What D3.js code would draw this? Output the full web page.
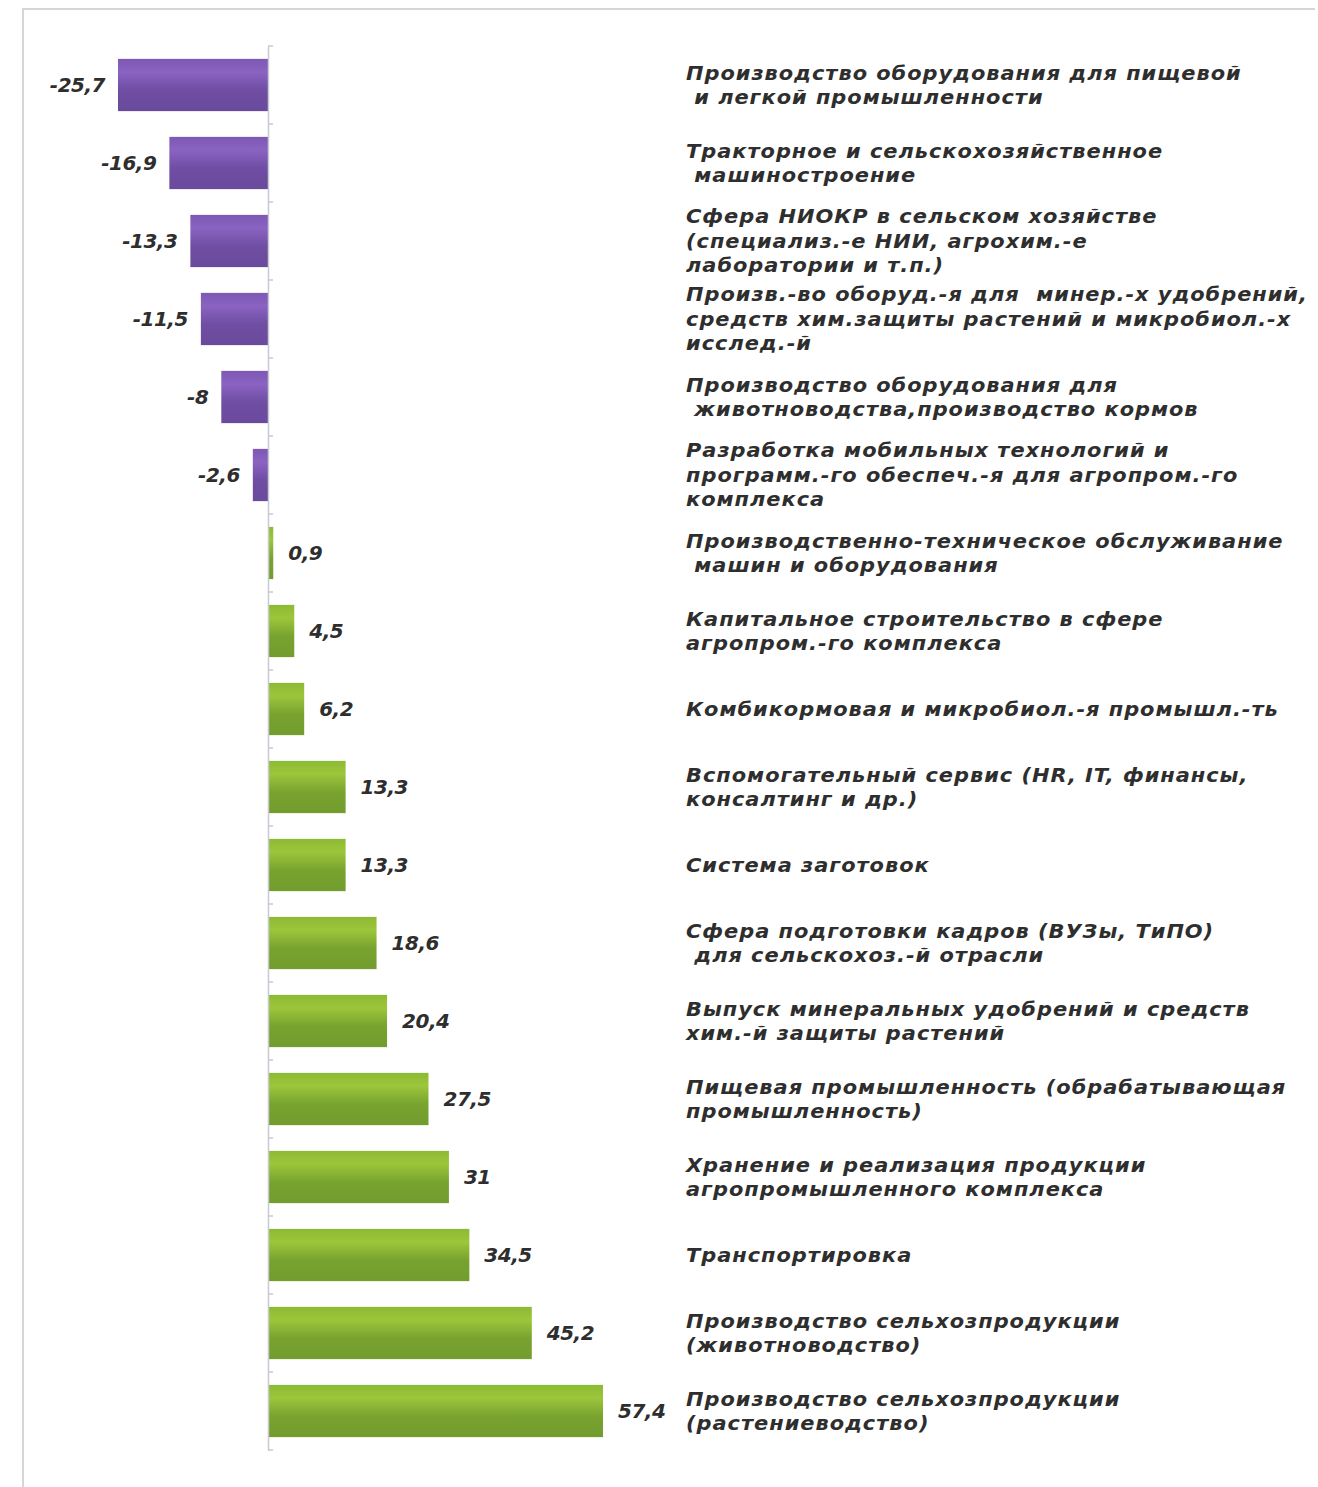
<!DOCTYPE html>
<html>
<head>
<meta charset="utf-8">
<script src="https://cdn.jsdelivr.net/npm/d3@7"></script>
<style>
    body { margin: 0; background: #fff; }
    svg text { font-family: "DejaVu Sans", sans-serif; font-style: italic; fill: #2e2e2e; white-space: pre; }
</style>
</head>
<body>
<div id="chart"></div>
<script>
const categories = [
    ["Производство оборудования для пищевой", " и легкой промышленности"],
    ["Тракторное и сельскохозяйственное", " машиностроение"],
    ["Сфера НИОКР в сельском хозяйстве", "(специализ.-е НИИ, агрохим.-е", "лаборатории и т.п.)"],
    ["Произв.-во оборуд.-я для  минер.-х удобрений,", "средств хим.защиты растений и микробиол.-х", "исслед.-й"],
    ["Производство оборудования для", " животноводства,производство кормов"],
    ["Разработка мобильных технологий и", "программ.-го обеспеч.-я для агропром.-го", "комплекса"],
    ["Производственно-техническое обслуживание", " машин и оборудования"],
    ["Капитальное строительство в сфере", "агропром.-го комплекса"],
    ["Комбикормовая и микробиол.-я промышл.-ть"],
    ["Вспомогательный сервис (HR, IT, финансы,", "консалтинг и др.)"],
    ["Система заготовок"],
    ["Сфера подготовки кадров (ВУЗы, ТиПО)", " для сельскохоз.-й отрасли"],
    ["Выпуск минеральных удобрений и средств", "хим.-й защиты растений"],
    ["Пищевая промышленность (обрабатывающая", "промышленность)"],
    ["Хранение и реализация продукции", "агропромышленного комплекса"],
    ["Транспортировка"],
    ["Производство сельхозпродукции", "(животноводство)"],
    ["Производство сельхозпродукции", "(растениеводство)"]
];
const values = [-25.7, -16.9, -13.3, -11.5, -8, -2.6, 0.9, 4.5, 6.2, 13.3, 13.3, 18.6, 20.4, 27.5, 31, 34.5, 45.2, 57.4];

const width = 1318, height = 1487;

let svg = d3.select("#chart").append("svg")
    .attr("width", width)
    .attr("height", height);

// frame
svg.append("path")
    .attr("d", "M23,1487 V9 H1315")
    .attr("fill", "none")
    .attr("stroke", "#d6d6d6")
    .attr("stroke-width", 2);

let defs = svg.append("defs");
function grad(id, stops) {
    let g = defs.append("linearGradient").attr("id", id)
        .attr("x1", 0).attr("y1", 0).attr("x2", 0).attr("y2", 1);
    stops.forEach(s => g.append("stop").attr("offset", s[0]).attr("stop-color", s[1]));
}
grad("gPurple", [[0, "#7d58b4"], [0.25, "#8b63c2"], [0.6, "#6f4ea3"], [1, "#6a4a9c"]]);
grad("gGreen", [[0, "#8db934"], [0.25, "#9cc63a"], [0.6, "#78a32f"], [1, "#729c2e"]]);

let idx = d3.range(values.length);

let x = d3.scaleLinear()
    .domain([-25.7, 57.4])
    .range([118, 603]);

let y = d3.scaleBand()
    .domain(idx)
    .range([46, 1450])
    .paddingInner(0.33)
    .paddingOuter(0.165);

// bars
svg.append("g").selectAll("rect")
    .data(idx)
    .enter()
    .append("rect")
    .attr("x", i => x(Math.min(0, values[i])))
    .attr("y", i => y(i))
    .attr("width", i => Math.abs(x(values[i]) - x(0)))
    .attr("height", y.bandwidth())
    .attr("fill", i => values[i] < 0 ? "url(#gPurple)" : "url(#gGreen)");

// zero axis with category ticks
let axis = d3.axisRight(y).tickSize(0).tickFormat("");
let axisG = svg.append("g")
    .attr("transform", "translate(" + x(0) + ",0)")
    .call(axis);
axisG.select(".domain").attr("stroke", "#c9c9d2").attr("stroke-width", 1.5);
axisG.selectAll(".tick").remove();
let step = y.step();
axisG.selectAll("line.sep")
    .data(d3.range(values.length + 1))
    .enter()
    .append("line")
    .attr("class", "sep")
    .attr("x1", 0).attr("x2", 5)
    .attr("y1", k => y.range()[0] + k * step)
    .attr("y2", k => y.range()[0] + k * step)
    .attr("stroke", "#c9c9d2")
    .attr("stroke-width", 1.5);

// value labels
svg.append("g").selectAll("text")
    .data(idx)
    .enter()
    .append("text")
    .attr("x", i => values[i] < 0 ? x(values[i]) - 13 : x(values[i]) + 15)
    .attr("y", i => y(i) + y.bandwidth() / 2)
    .attr("dy", "0.36em")
    .attr("text-anchor", i => values[i] < 0 ? "end" : "start")
    .style("font-size", "20px")
    .style("font-weight", 600)
    .style("letter-spacing", "-0.5px")
    .text(i => String(values[i]).replace(".", ","));

// category labels (slightly widened glyphs, like the original wide typeface)
let lineH = 24.5;
let labels = svg.append("g").selectAll("text")
    .data(idx)
    .enter()
    .append("text")
    .attr("transform", i => "translate(686," +
        (y(i) + y.bandwidth() / 2 - (categories[i].length - 1) * lineH / 2) + ") scale(1.1,1)")
    .style("font-size", "19px")
    .style("font-weight", 600)
    .style("letter-spacing", "0.9px");

labels.selectAll("tspan")
    .data(i => categories[i].map((t, k) => ({t: t, k: k})))
    .enter()
    .append("tspan")
    .attr("x", 0)
    .attr("dy", d => d.k === 0 ? "0.36em" : lineH)
    .text(d => d.t);
</script>
</body>
</html>
